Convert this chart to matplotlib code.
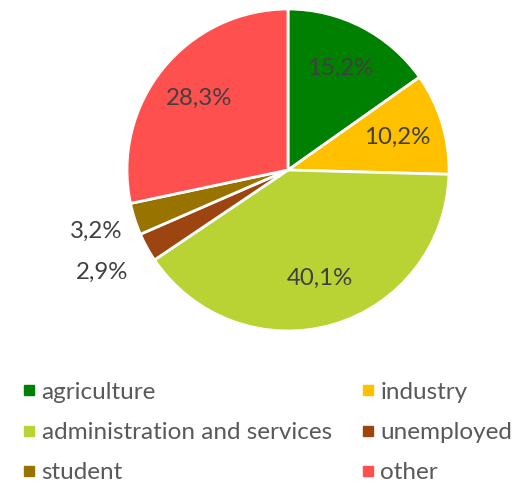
import numpy as np
import matplotlib.pyplot as plt
from matplotlib.lines import Line2D

plt.rcParams['font.family'] = ['Lato', 'DejaVu Sans']

categories = ["agriculture", "industry", "administration and services",
              "unemployed", "student", "other"]
shares = [15.2, 10.2, 40.1, 2.9, 3.2, 28.3]
colors = ["#008000", "#FFC000", "#B9D334", "#9C4510", "#997300", "#FF5050"]
# label distance from centre (fraction of radius); small slices labelled outside
label_dist = [0.71, 0.71, 0.70, 1.32, 1.25, 0.71]

fig = plt.figure(figsize=(5.14, 4.84), dpi=100)
ax = fig.add_axes([0, 0, 1, 1])

cx, cy, r = 288, 314, 161
wedges, _ = ax.pie(shares, colors=colors, startangle=90, counterclock=False,
                   center=(cx, cy), radius=r, frame=True,
                   wedgeprops=dict(edgecolor="white", linewidth=2))
ax.set_xlim(0, 514)
ax.set_ylim(0, 484)
ax.set_aspect("equal")
ax.axis("off")

for w, val, d in zip(wedges, shares, label_dist):
    ang = np.deg2rad((w.theta1 + w.theta2) / 2)
    x = cx + d * r * np.cos(ang)
    y = cy + d * r * np.sin(ang)
    ax.text(x, y, f"{val:.1f}%".replace(".", ","), ha="center", va="center",
            fontsize=17.3, color="#404040")

handles = [Line2D([], [], marker="s", linestyle="none", markersize=6.5,
                  markerfacecolor=c, markeredgecolor=c) for c in colors]
order = [0, 2, 4, 1, 3, 5]
fig.legend([handles[i] for i in order], [categories[i] for i in order],
           ncol=2, loc="lower left", bbox_to_anchor=(0.003, -0.044),
           frameon=False, fontsize=17.5, labelcolor="#595959",
           handlelength=0.45, handletextpad=0.3, columnspacing=1.25,
           labelspacing=0.79)

plt.savefig("out.png", dpi=100)
